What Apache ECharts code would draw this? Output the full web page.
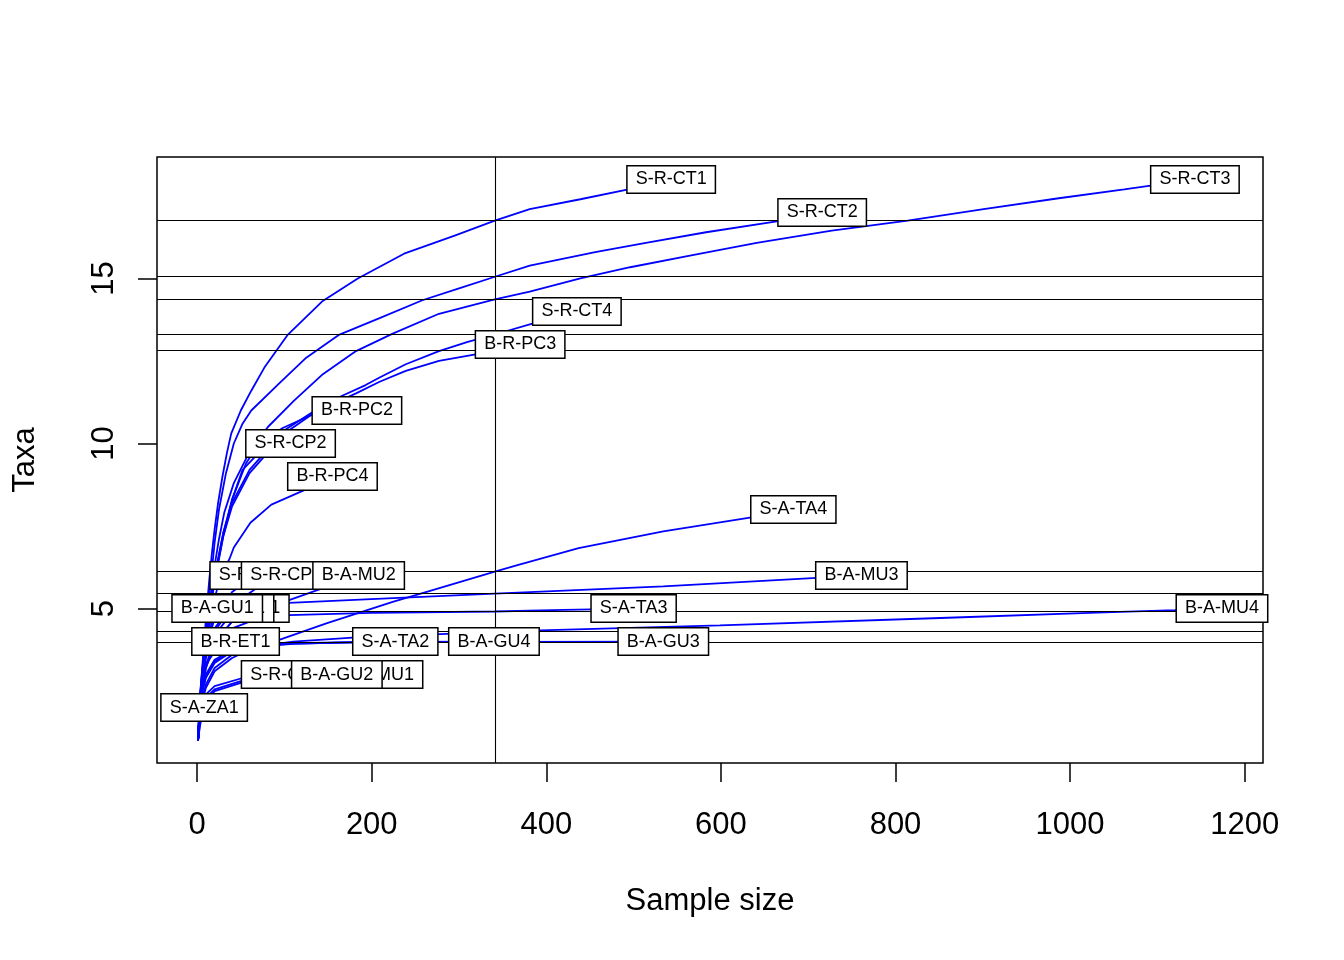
<!DOCTYPE html>
<html>
<head>
<meta charset="utf-8">
<script src="https://cdn.jsdelivr.net/npm/echarts@6/dist/echarts.min.js"></script>
<style>
  html, body { margin: 0; padding: 0; background: #fff; }
  #chart { width: 1344px; height: 960px; }
</style>
</head>
<body>
<div id="chart"></div>
<script>
// rarefaction curves, [sample size, taxa]
var sRCT1 = [[1,1],[3,2.0],[5,2.9],[8,4.0],[11,5.0],[14,5.9],[17,6.7],[20,7.4],[24,8.2],[29,9.0],[34,9.7],[39,10.3],[50,11.0],[62,11.6],[77,12.3],[104,13.3],[143,14.3],[184,15.0],[237,15.75],[295,16.3],[341,16.75],[381,17.1],[439,17.4],[494,17.7],[543,18]];
var sRCT2 = [[1,1],[3,2.0],[5,2.8],[8,3.8],[11,4.7],[14,5.5],[17,6.2],[20,7.0],[25,8.0],[33,9.1],[42,10.0],[52,10.6],[62,11.0],[94,11.82],[125,12.6],[163,13.3],[209,13.8],[258,14.34],[300,14.7],[342,15.06],[381,15.39],[456,15.8],[514,16.08],[583,16.4],[664,16.73],[716,17]];
var sRCT3 = [[1,1],[3,1.95],[5,2.7],[8,3.6],[11,4.4],[14,5.1],[17,5.7],[20,6.3],[25,7.1],[31,7.9],[42,8.8],[61,9.8],[81,10.5],[111,11.3],[144,12.1],[182,12.8],[224,13.33],[277,13.93],[341,14.37],[381,14.6],[439,15.0],[496,15.34],[566,15.7],[641,16.08],[727,16.45],[814,16.75],[901,17.1],[987,17.43],[1062,17.7],[1143,18]];
var sRCT4 = [[1,1],[3,1.9],[5,2.6],[8,3.5],[11,4.2],[14,4.9],[17,5.5],[20,6.0],[30,7.3],[40,8.2],[60,9.2],[100,10.4],[135,11.0],[163,11.41],[193,11.77],[209,12.0],[239,12.4],[277,12.8],[310,13.08],[342,13.31],[384,13.63],[435,14]];
var bRPC3 = [[1,1],[3,1.9],[5,2.6],[8,3.4],[11,4.1],[14,4.8],[17,5.4],[20,5.9],[30,7.2],[40,8.1],[60,9.1],[100,10.3],[135,10.95],[182,11.52],[209,11.87],[239,12.2],[277,12.5],[319,12.7],[342,12.82],[370,13]];
var bRPC2 = [[1,1],[3,1.9],[5,2.6],[8,3.4],[11,4.1],[14,4.8],[17,5.4],[20,5.9],[30,7.3],[40,8.3],[56,9.4],[71,10.0],[98,10.47],[134,10.9],[183,11]];
var sRCP2 = [[1,1],[3,1.9],[5,2.6],[8,3.4],[11,4.1],[14,4.7],[17,5.3],[20,5.8],[30,7.2],[40,8.3],[52,9.2],[70,9.7],[90,9.9],[107,10]];
var bRPC4 = [[1,1],[3,1.8],[5,2.4],[8,3.2],[11,3.9],[15,4.6],[20,5.3],[26,5.9],[31,6.2],[37,6.5],[42,6.85],[61,7.6],[85,8.15],[128,8.65],[155,9]];
var sATA4 = [[1,1],[3,1.7],[6,2.2],[10,2.6],[20,3.1],[40,3.5],[60,3.75],[94,4.05],[148,4.55],[224,5.2],[262,5.5],[341,6.12],[369,6.33],[437,6.83],[534,7.34],[635,7.76],[683,8]];
var bAMU3 = [[1,1],[3,1.9],[6,2.6],[10,3.2],[20,4.0],[40,4.6],[70,4.95],[105,5.17],[231,5.32],[341,5.45],[534,5.67],[710,5.93],[761,6]];
var sATA3 = [[1,1],[3,1.9],[6,2.6],[10,3.2],[20,3.9],[40,4.4],[70,4.7],[105,4.8],[200,4.87],[341,4.91],[420,4.96],[500,5]];
var bAMU4 = [[1,1],[3,1.8],[6,2.3],[10,2.7],[20,3.2],[40,3.6],[70,3.85],[110,4.0],[178,4.12],[293,4.24],[341,4.3],[599,4.49],[860,4.72],[1022,4.87],[1120,4.95],[1174,5]];
var bAGU3 = [[1,1],[3,1.9],[6,2.5],[10,2.9],[20,3.35],[40,3.7],[70,3.87],[110,3.94],[200,3.98],[341,3.99],[534,4]];
var bAGU4 = [[1,1],[3,2.0],[6,2.6],[10,3.0],[20,3.45],[40,3.75],[70,3.9],[110,3.95],[200,3.99],[340,4]];
var sATA2 = [[1,1],[3,1.9],[6,2.5],[10,2.95],[20,3.4],[40,3.7],[70,3.85],[110,3.93],[160,3.97],[227,4]];
var bRET1 = [[1,1],[3,2.1],[6,2.8],[10,3.3],[20,3.7],[30,3.87],[44,4]];
var bAGU1 = [[1,1],[3,2.3],[6,3.2],[10,3.8],[15,4.4],[23,5]];
var sATA1 = [[1,1],[3,2.2],[6,3.0],[10,3.6],[20,4.3],[30,4.7],[39,5]];
var bRPC1 = [[1,1],[3,2.2],[6,2.9],[10,3.5],[20,4.2],[35,4.7],[54,5]];
var sRCP1 = [[1,1],[3,2.3],[6,3.1],[10,3.8],[20,4.7],[40,5.5],[66,6]];
var sRCP3 = [[1,1],[3,2.2],[6,3.0],[10,3.6],[20,4.4],[40,5.1],[70,5.65],[102,6]];
var bAMU2 = [[1,1],[3,2.0],[6,2.7],[10,3.3],[20,4.0],[40,4.6],[94,5.15],[153,5.7],[185,6]];
var sRCP4 = [[1,1],[3,1.7],[6,2.1],[10,2.4],[20,2.65],[50,2.88],[102,3]];
var bAGU2 = [[1,1],[3,1.6],[6,2.0],[10,2.3],[20,2.55],[50,2.8],[100,2.94],[160,3]];
var bAMU1 = [[1,1],[3,1.5],[6,1.9],[10,2.2],[20,2.5],[50,2.75],[100,2.9],[150,2.96],[206,3]];
var sAZA1 = [[1,1],[3,1.4],[5,1.7],[8,2]];

// sample size used for rarefying, and taxa at that size
var sampleSize = 341.5;
var rareAt = [16.75, 15.06, 14.37, 13.31, 12.82, 6.12, 5.45, 4.91, 4.30, 3.99];

var xTicks = [0, 200, 400, 600, 800, 1000, 1200];
var yTicks = [5, 10, 15];

// order in which the labels are stacked (later ones on top)
var samples = [
    ['B-R-PC1', bRPC1], ['S-A-TA1', sATA1], ['B-A-GU1', bAGU1],
    ['S-R-CP1', sRCP1], ['S-R-CP3', sRCP3], ['B-A-MU2', bAMU2],
    ['S-R-CP4', sRCP4], ['B-A-MU1', bAMU1], ['B-A-GU2', bAGU2],
    ['S-A-ZA1', sAZA1], ['B-R-ET1', bRET1], ['S-A-TA2', sATA2],
    ['B-A-GU4', bAGU4], ['B-A-GU3', bAGU3], ['S-A-TA3', sATA3],
    ['B-A-MU4', bAMU4], ['B-A-MU3', bAMU3], ['S-A-TA4', sATA4],
    ['B-R-PC4', bRPC4], ['S-R-CP2', sRCP2], ['B-R-PC2', bRPC2],
    ['B-R-PC3', bRPC3], ['S-R-CT4', sRCT4], ['S-R-CT2', sRCT2],
    ['S-R-CT1', sRCT1], ['S-R-CT3', sRCT3]
];

var FONT = 'Liberation Sans, Arial, sans-serif';

var series = [];
for (var i = 0; i < samples.length; i = i + 1) {
    series.push({
        name: samples[i][0],
        type: 'line',
        data: samples[i][1],
        showSymbol: false,
        smooth: false,
        silent: true,
        z: 2,
        lineStyle: { color: '#0000ff', width: 1.8 }
    });
}

var hLines = [];
for (var i = 0; i < rareAt.length; i = i + 1) {
    hLines.push({ yAxis: rareAt[i] });
}
hLines.push({ xAxis: sampleSize });

series.push({
    type: 'line',
    data: [],
    silent: true,
    z: 3,
    markLine: {
        silent: true,
        symbol: 'none',
        animation: false,
        label: { show: false },
        lineStyle: { color: '#000', width: 1.1, type: 'solid', opacity: 1 },
        data: hLines
    }
});

var ends = [];
for (var i = 0; i < samples.length; i = i + 1) {
    var pts = samples[i][1];
    ends.push({ name: samples[i][0], value: pts[pts.length - 1] });
}
series.push({
    type: 'scatter',
    data: ends,
    symbolSize: 1,
    silent: true,
    z: 10,
    itemStyle: { color: '#fff', opacity: 1 },
    label: {
        show: true,
        position: 'inside',
        offset: [0, 1.5],
        formatter: '{b}',
        fontFamily: FONT,
        fontSize: 18,
        lineHeight: 20,
        color: '#000',
        opacity: 1,
        backgroundColor: '#fff',
        borderColor: '#000',
        borderWidth: 1.5,
        padding: [4, 8, 2, 8]
    },
    emphasis: { disabled: true },
    labelLayout: { hideOverlap: false }
});

var chart = echarts.init(document.getElementById('chart'));
chart.setOption({
    animation: false,
    backgroundColor: '#fff',
    grid: {
        left: 157, top: 157, width: 1106, height: 606,
        show: true, borderColor: '#000', borderWidth: 1.5,
        backgroundColor: 'rgba(0,0,0,0)'
    },
    xAxis: {
        type: 'value',
        min: -46,
        max: 1221,
        name: 'Sample size',
        nameLocation: 'middle',
        nameGap: 123,
        nameTextStyle: { fontFamily: FONT, fontSize: 31, color: '#000' },
        axisLine: { show: false, onZero: false },
        axisTick: {
            show: true, length: 19, customValues: xTicks,
            lineStyle: { color: '#000', width: 1.5 }
        },
        axisLabel: {
            customValues: xTicks,
            formatter: function (v) { return String(v); },
            fontFamily: FONT, fontSize: 31, color: '#000', margin: 47
        },
        splitLine: { show: false }
    },
    yAxis: {
        type: 'value',
        min: 0.32,
        max: 18.68,
        name: 'Taxa',
        nameLocation: 'middle',
        nameGap: 116,
        nameRotate: 90,
        nameTextStyle: { fontFamily: FONT, fontSize: 31, color: '#000' },
        axisLine: { show: false, onZero: false },
        axisTick: {
            show: true, length: 19, customValues: yTicks,
            lineStyle: { color: '#000', width: 1.5 }
        },
        axisLabel: {
            customValues: yTicks,
            rotate: 90,
            fontFamily: FONT, fontSize: 31, color: '#000', margin: 37
        },
        splitLine: { show: false }
    },
    series: series
});
</script>
</body>
</html>
